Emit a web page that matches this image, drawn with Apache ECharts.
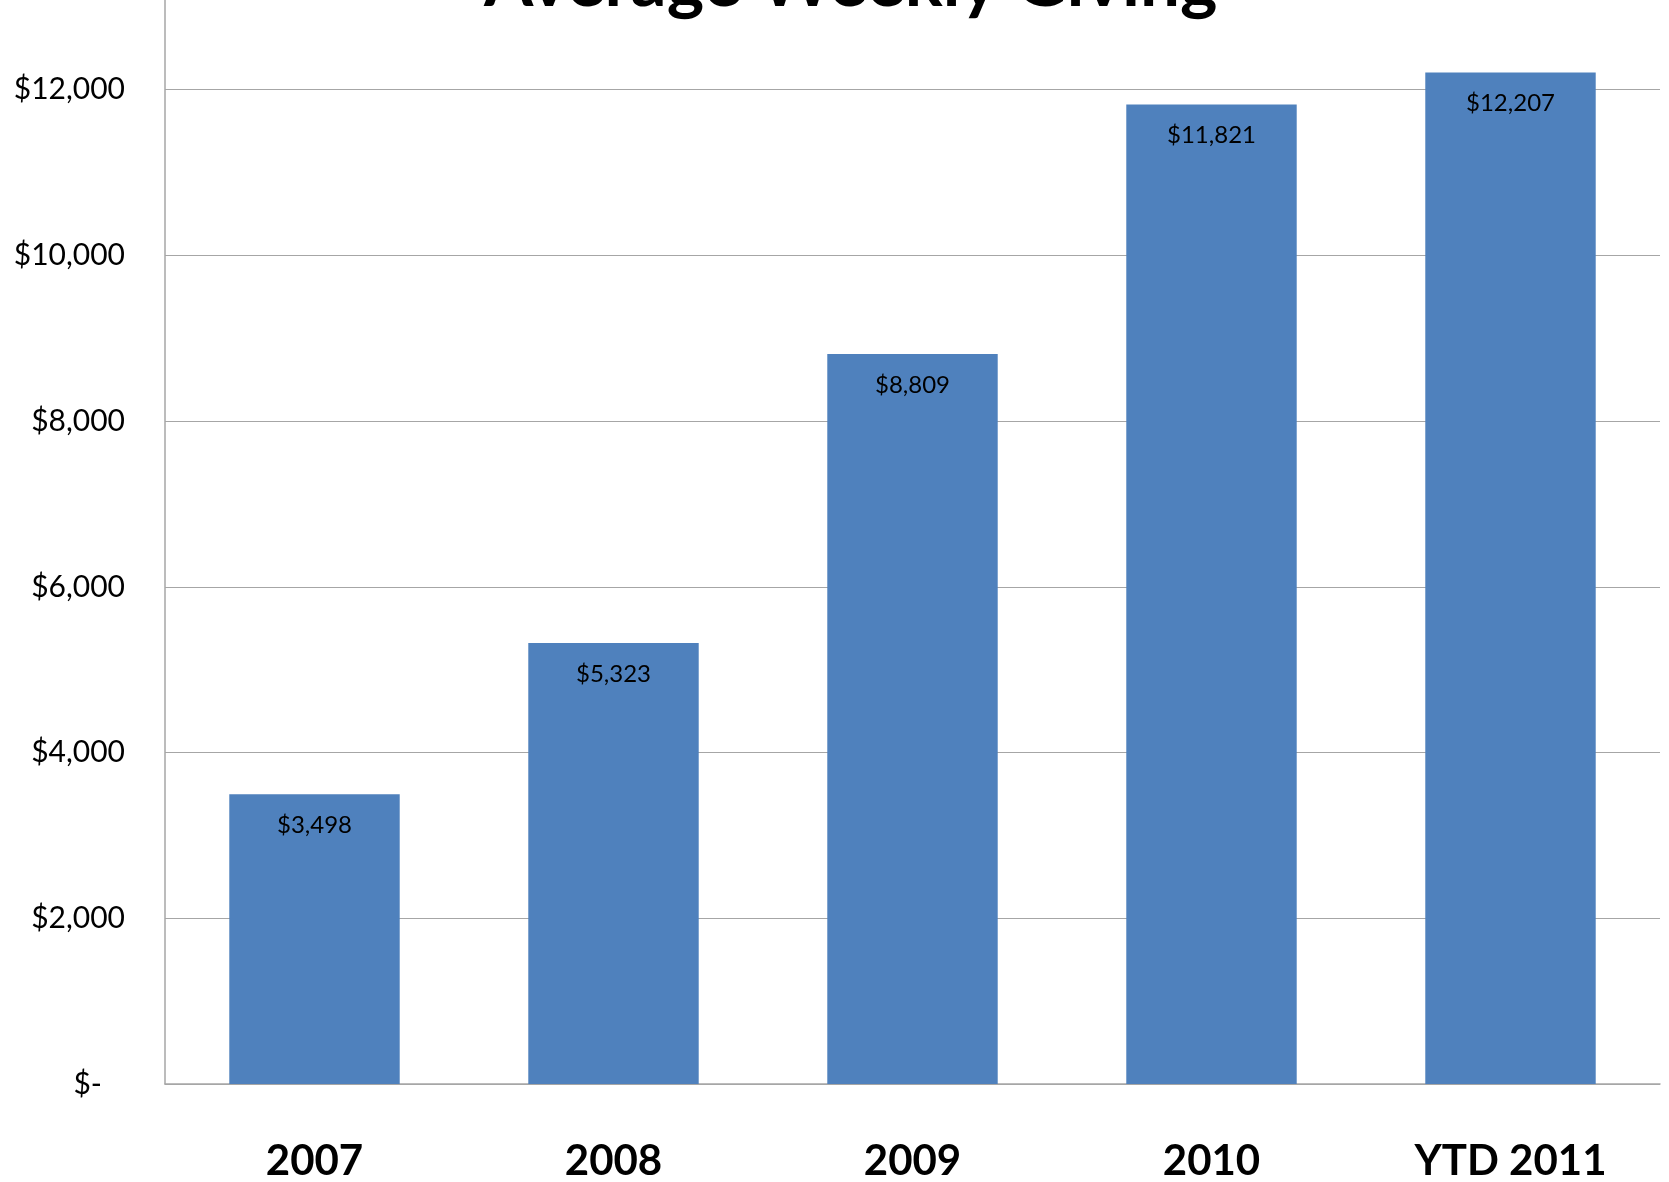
<!DOCTYPE html>
<html>
<head>
<meta charset="utf-8">
<script src="https://cdn.jsdelivr.net/npm/echarts@6/dist/echarts.min.js"></script>
<style>
  html, body { margin: 0; padding: 0; background: #fff; overflow: hidden; }
  /* chart is taller than the window and shifted up: the top of the plot is cut off like the source */
  #chart { position: absolute; left: 0; top: -100px; width: 1669px; height: 1282px; }
</style>
</head>
<body>
<div id="chart"></div>
<script>
const categories = ['2007', '2008', '2009', '2010', 'YTD 2011'];
const giving = [3498, 5323, 8809, 11821, 12207];
const titleText = 'Average Weekly Giving';

const money = (v) => {
    if (v === 0) return '$-   ';
    return '$' + v.toLocaleString('en-US');
};

const myChart = echarts.init(document.getElementById('chart'));

const option = {
    animation: false,
    textStyle: { fontFamily: 'Lato' },
    title: {
        text: titleText,
        left: 484,
        top: 48,
        padding: 0,
        textStyle: { fontFamily: 'Lato', fontWeight: 'bold', fontSize: 71, color: '#000' }
    },
    grid: { left: 165, right: 9, top: 24, bottom: 98 },
    xAxis: {
        type: 'category',
        data: categories,
        axisLine: { lineStyle: { color: '#a6a6a6', width: 1.5 } },
        axisTick: { show: false },
        axisLabel: { margin: 56, fontSize: 42, fontWeight: 'bold', color: '#000', fontFamily: 'Lato' }
    },
    yAxis: {
        type: 'value',
        min: 0,
        max: 14000,
        interval: 2000,
        axisLine: { show: true, lineStyle: { color: '#a6a6a6', width: 1.5 } },
        axisTick: { show: false },
        splitLine: { lineStyle: { color: '#a6a6a6', width: 1.2 } },
        axisLabel: { margin: 40, fontSize: 30, color: '#000', fontFamily: 'Lato', formatter: money }
    },
    series: [{
        type: 'bar',
        data: giving,
        barWidth: '57%',
        itemStyle: { color: '#4f81bd' },
        label: {
            show: true,
            position: 'insideTop',
            distance: 19,
            fontSize: 24,
            color: '#000',
            fontFamily: 'Lato',
            formatter: (p) => money(p.value)
        }
    }]
};

myChart.setOption(option);
</script>
</body>
</html>
